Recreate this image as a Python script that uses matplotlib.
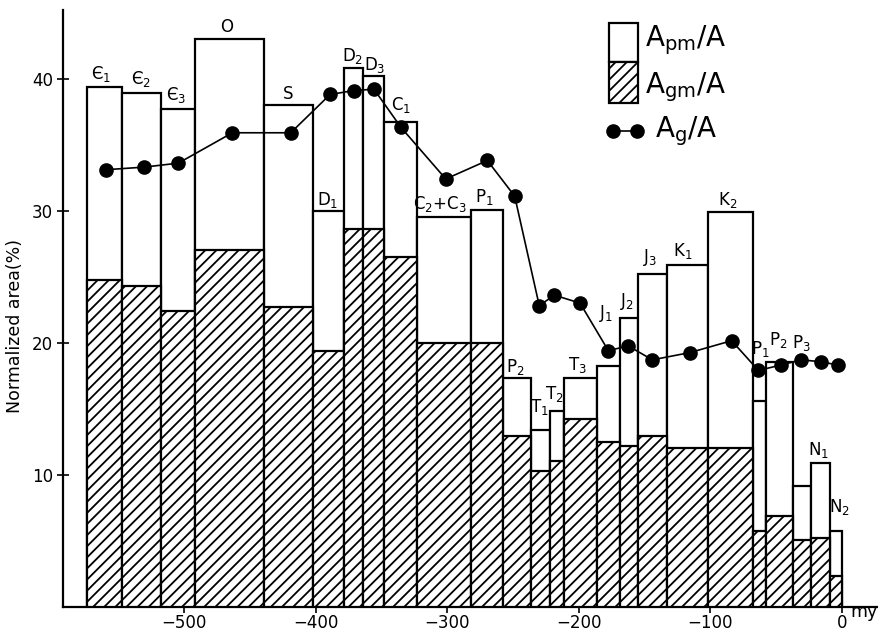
import matplotlib
matplotlib.use("Agg")
import matplotlib.pyplot as plt
from matplotlib.patches import Rectangle
from matplotlib.lines import Line2D

plt.rcParams['font.family'] = ['DejaVu Sans']
plt.rcParams['mathtext.default'] = 'regular'
plt.rcParams['hatch.linewidth'] = 1.3

# ---- data ----
edges = [-573.7, -547.5, -517.8, -491.8, -439.0, -401.8, -378.5, -363.8, -347.8,
         -322.7, -282.1, -257.4, -236.5, -221.8, -211.2, -185.9, -168.6, -154.7,
         -133.1, -101.4, -67.7, -57.6, -37.3, -23.6, -8.9, 0.0]
labels = ["Є$_1$", "Є$_2$", "Є$_3$", "O", "S", "D$_1$", "D$_2$", "D$_3$", "C$_1$",
          "C$_2$+C$_3$", "P$_1$", "P$_2$", "T$_1$", "T$_2$", "T$_3$", "J$_1$", "J$_2$",
          "J$_3$", "K$_1$", "K$_2$", "P$_1$", "P$_2$", "P$_3$", "N$_1$", "N$_2$"]
apm = [39.4, 38.9, 37.7, 43.0, 38.0, 29.95, 40.8, 40.2, 36.7, 29.5, 30.05, 17.3,
       13.4, 14.85, 17.35, 18.2, 21.85, 25.2, 25.9, 29.9, 15.6, 18.5, 9.15, 10.86, 5.73]
agm = [24.75, 24.3, 22.4, 27.0, 22.7, 19.4, 28.6, 28.6, 26.5, 19.95, 20.0, 12.9,
       10.3, 11.0, 14.2, 12.5, 12.2, 12.9, 12.05, 12.05, 5.7, 6.87, 5.05, 5.23, 2.35]
ag_x = [-559.8, -530.3, -504.5, -463.4, -419.0, -389.1, -370.9, -355.7, -335.1,
        -301.1, -269.5, -248.7, -230.0, -218.6, -199.0, -177.5, -162.3, -144.0,
        -115.4, -83.7, -63.4, -46.4, -31.0, -16.0, -2.6]
ag_y = [33.1, 33.3, 33.6, 35.9, 35.9, 38.8, 39.1, 39.2, 36.3, 32.4, 33.8, 31.1,
        22.8, 23.6, 23.0, 19.4, 19.75, 18.7, 19.25, 20.15, 17.9, 18.3, 18.7, 18.56, 18.3]
xticks = [-500, -400, -300, -200, -100, 0]
xticklabels = ["−500", "−400", "−300", "−200", "−100", "0"]
yticks = [10, 20, 30, 40]

# label offsets (pixels) relative to bar top centre: (dx, dy up)
label_off = [(-3, 13), (0, 14), (-2, 14), (-3, 12), (-1, 11), (-1, 11), (-1, 12),
             (1, 11), (0, 17), (-4, 13), (-3, 13), (-2, 11), (-1, 23), (-3, 17),
             (-3, 13), (-2, 53), (-2, 17), (-2, 17), (-5, 14), (-3, 12), (1, 52),
             (-1, 22), (0, 143), (-2, 13), (4, 24)]

W, H = 879, 634
fig = plt.figure(figsize=(W / 100, H / 100), dpi=100)
ax = fig.add_axes([63 / W, (H - 606.7) / H, 815 / W, 596.7 / H])

lefts = edges[:-1]
widths = [edges[i + 1] - edges[i] for i in range(len(lefts))]

ax.bar(lefts, apm, width=widths, align='edge', facecolor='white',
       edgecolor='black', linewidth=1.6, zorder=2)
ax.bar(lefts, agm, width=widths, align='edge', facecolor='white',
       edgecolor='black', linewidth=1.6, hatch='///', zorder=3)

ax.plot(ag_x, ag_y, '-o', color='black', markersize=9.5, linewidth=1.2, zorder=5)

for i, lab in enumerate(labels):
    cx = lefts[i] + widths[i] / 2
    dx, dy = label_off[i]
    ax.annotate(lab, (cx, apm[i]), xytext=(dx, dy), textcoords='offset pixels',
                ha='center', va='center', fontsize=12, zorder=6)

ax.set_xlim(-592.2, 27.6)
ax.set_ylim(0, 45.2)
ax.set_xticks(xticks)
ax.set_xticklabels(xticklabels)
ax.set_yticks(yticks)
ax.tick_params(axis='both', direction='inout', length=8, width=1.2, labelsize=12)
ax.tick_params(axis='x', pad=1)
ax.tick_params(axis='y', pad=3)
for s in ['top', 'right']:
    ax.spines[s].set_visible(False)
for s in ['left', 'bottom']:
    ax.spines[s].set_linewidth(1.6)
ax.set_ylabel("Normalized area(%)", fontsize=12.5, labelpad=4)
ax.yaxis.set_label_coords(-0.048, 0.47)

fig.text(850 / W, 1 - 612 / H, "my", fontsize=12.5, ha='left', va='center')

# ---- legend (drawn by hand in figure pixel coordinates) ----
def px(x, y):
    return (x / W, 1 - y / H)

r1 = Rectangle(px(609, 62), 29 / W, 39 / H, transform=fig.transFigure,
               facecolor='white', edgecolor='black', linewidth=1.6)
r2 = Rectangle(px(609, 103), 29 / W, 41 / H, transform=fig.transFigure,
               facecolor='white', edgecolor='black', linewidth=1.6, hatch='///')
fig.add_artist(r1)
fig.add_artist(r2)
lx = [613 / W, 637 / W]
ly = [1 - 131 / H, 1 - 131 / H]
fig.add_artist(Line2D(lx, ly, transform=fig.transFigure, color='black',
                      marker='o', markersize=9.5, linewidth=1.2))
fig.text(*px(645, 40), "A$_{pm}$/A", fontsize=20, ha='left', va='center')
fig.text(*px(645, 87), "A$_{gm}$/A", fontsize=20, ha='left', va='center')
fig.text(*px(655, 131), "A$_{g}$/A", fontsize=20, ha='left', va='center')

fig.savefig("out.png", dpi=100)
